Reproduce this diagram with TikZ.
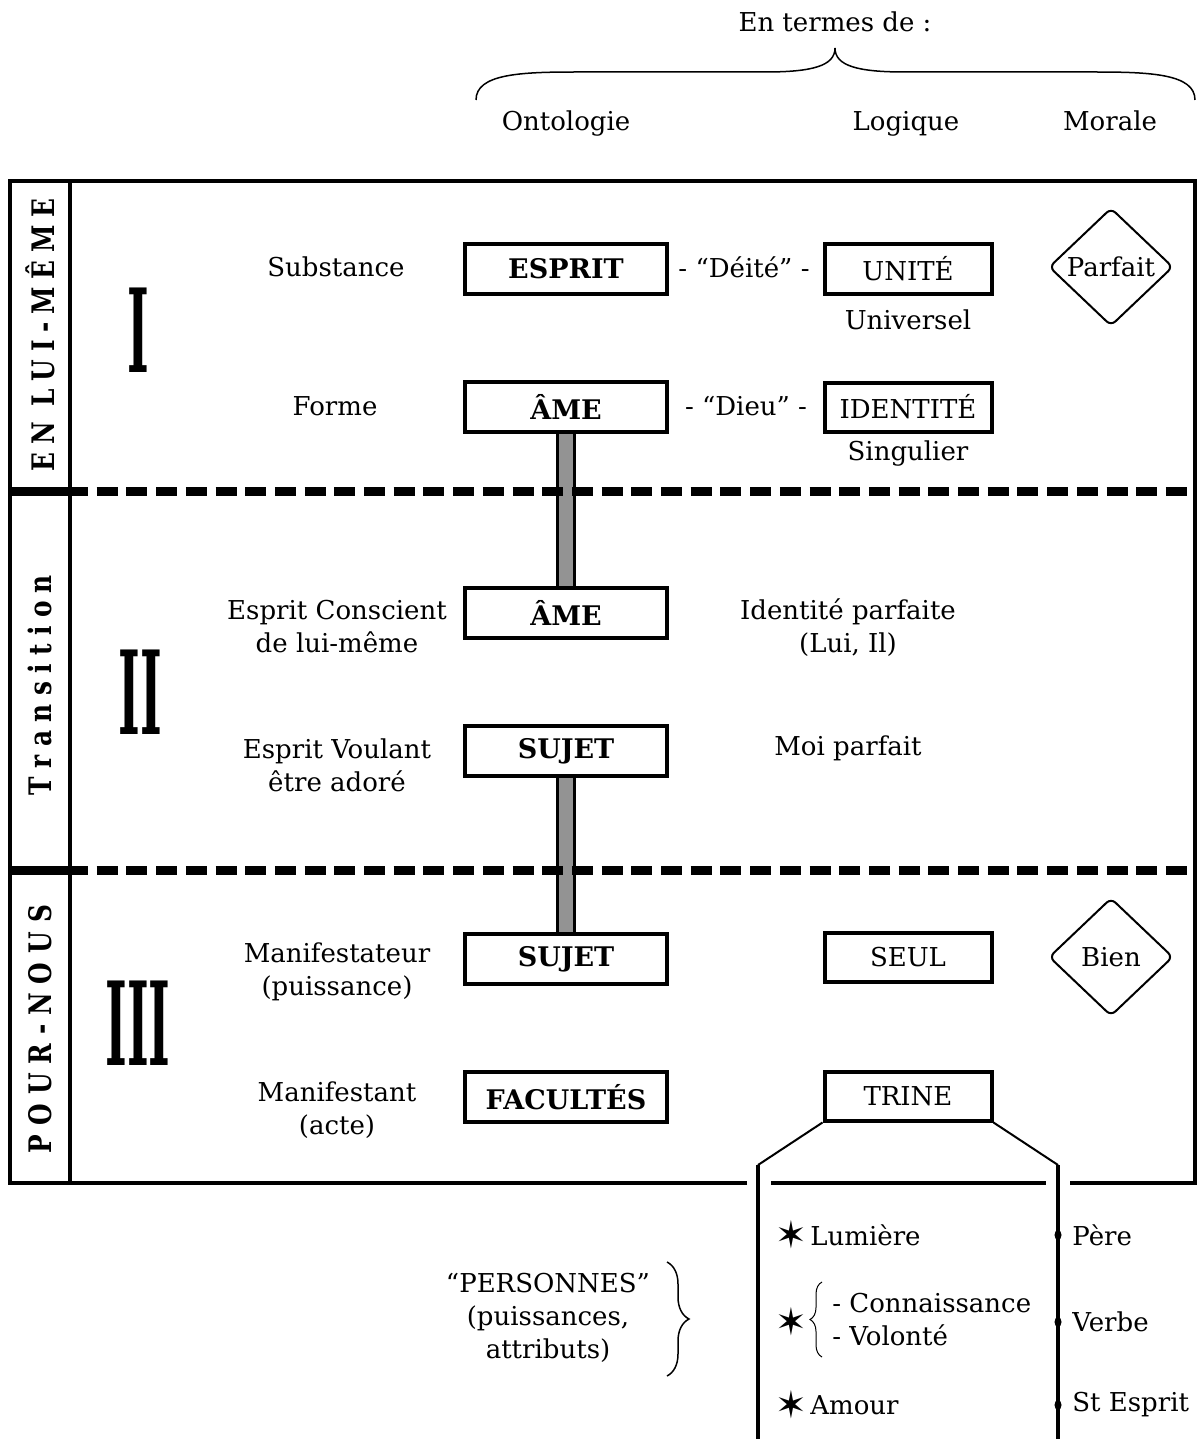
\documentclass[tikz,border=0pt]{standalone}
\usepackage{fontspec}
\usepackage{graphicx}
\setmainfont{DejaVu Serif}
\newfontfamily\symfont{DejaVu Sans}
\newcommand{\bigstar}{{\symfont\fontsize{19}{19}\selectfont ✶}}
\newcommand{\nl}[1]{\scalebox{0.8}[1]{#1}}
\usetikzlibrary{shapes.geometric,decorations.pathreplacing,backgrounds}
\begin{document}
\begin{tikzpicture}[x=0.5pt,y=-0.5pt,
  font=\fontsize{13}{16.5}\selectfont,
  txt/.style={inner sep=0pt, align=center},
  obox/.style={draw, line width=2pt, fill=white, minimum width=101pt, minimum height=25pt, inner sep=0pt, font=\fontsize{13.5}{16.5}\selectfont\bfseries},
  lbox/.style={draw, line width=2pt, fill=white, minimum width=83.5pt, minimum height=24.5pt, inner sep=0pt},
  diam/.style={diamond, draw, line width=1pt, rounded corners=3pt, inner sep=0pt, minimum width=62pt, minimum height=59pt},
  frame/.style={line width=2pt},
  sepline/.style={line width=4.5pt},
  sepdash/.style={line width=4.5pt, dash pattern=on 10.5pt off 4.35pt},
  bar/.style={line width=1.5pt, double=gray!85, double distance=7pt},
  side/.style={rotate=90, inner sep=0pt, font=\fontsize{15.5}{15.5}\selectfont\bfseries},
  roman/.style={inner sep=0pt},
  thinline/.style={line width=1pt},
  trunk/.style={line width=1.75pt},
  dot/.style={ellipse, fill=black, inner sep=0pt, minimum width=3.5pt, minimum height=5pt},
  bracel/.style={line width=0.75pt}
]
\useasboundingbox (0,0) rectangle (1197,1439);

% header
\node[txt] (entermes) at (835,22) {En termes de :};
\draw[bracel] (476,100) .. controls (476,74) and (520,72) .. (576,72) -- (765,72)
  .. controls (812,72) and (835,66) .. (835,48)
  .. controls (835,66) and (858,72) .. (905,72) -- (1095,72)
  .. controls (1151,72) and (1195,74) .. (1195,100);
\node[txt, anchor=base] (onto) at (566,131) {Ontologie};
\node[txt, anchor=base] (logi) at (906,131) {Logique};
\node[txt, anchor=base] (mora) at (1110,131) {Morale};

% frame
\draw[frame] (747,1183) -- (10,1183) -- (10,181) -- (1195,181) -- (1195,1183) -- (1070,1183);
\draw[frame] (771,1183) -- (1046,1183);
\draw[line width=1.75pt] (70,181) -- (70,1183);

% separators
\draw[sepline] (10,491.5) -- (88,491.5);
\draw[sepdash] (96.7,491.5) -- (1195,491.5);
\draw[sepline] (10,870) -- (88,870);
\draw[sepdash] (96.7,870) -- (1195,870);

% side labels
\node[side] (s1) at (40,335) {\makebox[136pt][s]{\nl{E}\hfil\nl{N}\hfil\hspace{4pt}\nl{L}\hfil\nl{U}\hfil\nl{I}\hfil\nl{-}\hfil\nl{M}\hfil\nl{Ê}\hfil\nl{M}\hfil\nl{E}}};
\node[side] (s2) at (40,685) {\makebox[110pt][s]{\nl{T}\hfil\nl{r}\hfil\nl{a}\hfil\nl{n}\hfil\nl{s}\hfil\nl{i}\hfil\nl{t}\hfil\nl{i}\hfil\nl{o}\hfil\nl{n}}};
\node[side] (s3) at (40,1029) {\makebox[124pt][s]{\nl{P}\hfil\nl{O}\hfil\nl{U}\hfil\nl{R}\hfil\nl{-}\hfil\nl{N}\hfil\nl{O}\hfil\nl{U}\hfil\nl{S}}};

% roman numerals
\node[roman] (r1) at (138,330) {\scalebox{0.4}[1]{\fontsize{58}{58}\selectfont\bfseries I}};
\node[roman] (r2) at (140,692) {\scalebox{0.4}[1]{\fontsize{58}{58}\selectfont\bfseries II}};
\node[roman] (r3) at (138,1023) {\scalebox{0.4}[1]{\fontsize{58}{58}\selectfont\bfseries III}};

% left labels
\node[txt] (subst) at (336,267) {Substance};
\node[txt] (forme) at (335,406) {Forme};
\node[txt] (econs) at (337,627) {Esprit Conscient\\de lui-même};
\node[txt] (evoul) at (337,765) {Esprit Voulant\\être adoré};
\node[txt] (mteur) at (337,972) {Manifestateur\\(puissance)};
\node[txt] (mant) at (337,1110) {Manifestant\\(acte)};

% ontology boxes
\node[obox] (esprit) at (566,269) {ESPRIT};
\node[obox] (ame1) at (566,407) {ÂME};
\node[obox] (ame2) at (566,613) {ÂME};
\node[obox] (suj1) at (566,751) {SUJET};
\node[obox] (suj2) at (566,959) {SUJET};
\node[obox] (fac) at (566,1097) {FACULTÉS};

\begin{scope}[on background layer]
\draw[bar] (ame1.south) -- (ame2.north);
\draw[bar] (suj1.south) -- (suj2.north);
\end{scope}

% middle
\node[txt] (deite) at (744,267) {- “Déité” -};
\node[txt] (dieu) at (746,406) {- “Dieu” -};
\node[txt] (idp) at (848,628) {Identité parfaite\\(Lui, Il)};
\node[txt] (moip) at (848,748) {Moi parfait};

% logic boxes
\node[lbox] (unite) at (908,269) {UNITÉ};
\node[lbox] (ident) at (908,407) {IDENTITÉ};
\node[lbox] (seul) at (908,957) {SEUL};
\node[lbox] (trine) at (908,1096) {TRINE};
\node[txt] (univ) at (908,320) {Universel};
\node[txt] (sing) at (908,454) {Singulier};

% morale diamonds
\node[diam] (parfait) at (1111,267) {Parfait};
\node[diam] (bien) at (1111,957) {Bien};

% trine branch
\coordinate (tl) at (758,1165);
\coordinate (tr) at (1058,1165);
\coordinate (tlb) at (758,1445);
\coordinate (trb) at (1058,1445);
\draw[thinline] (trine.south west) -- (tl);
\draw[thinline] (trine.south east) -- (tr);
\draw[trunk] (tl) -- (tlb);
\draw[trunk] (tr) -- (trb);

\node[dot] (d1) at (1058,1235) {};
\node[dot] (d2) at (1058,1322) {};
\node[dot] (d3) at (1058,1405) {};

\node[txt] (st1) at (791,1235) {\bigstar};
\node[txt, anchor=west] (lum) at (810,1235) {Lumière};
\node[txt] (st2) at (791,1322) {\bigstar};
\draw[bracel, line width=0.5pt, decorate, decoration={brace, amplitude=6pt}] (822,1357) -- (822,1282);
\node[txt, anchor=west] (conn) at (832,1303) {- Connaissance};
\node[txt, anchor=west] (volo) at (832,1335) {- Volonté};
\node[txt] (st3) at (791,1405) {\bigstar};
\node[txt, anchor=west] (amour) at (810,1405) {Amour};

\node[txt, anchor=west] (pere) at (1072,1235) {Père};
\node[txt, anchor=west] (verbe) at (1072,1322) {Verbe};
\node[txt, anchor=west] (stesp) at (1072,1405) {St Esprit};

\node[txt] (pers) at (548,1318) {“PERSONNES”\\(puissances,\\attributs)};
\draw[bracel, decorate, decoration={brace, amplitude=11pt}] (667,1262) -- (667,1376);
\end{tikzpicture}
\end{document}
